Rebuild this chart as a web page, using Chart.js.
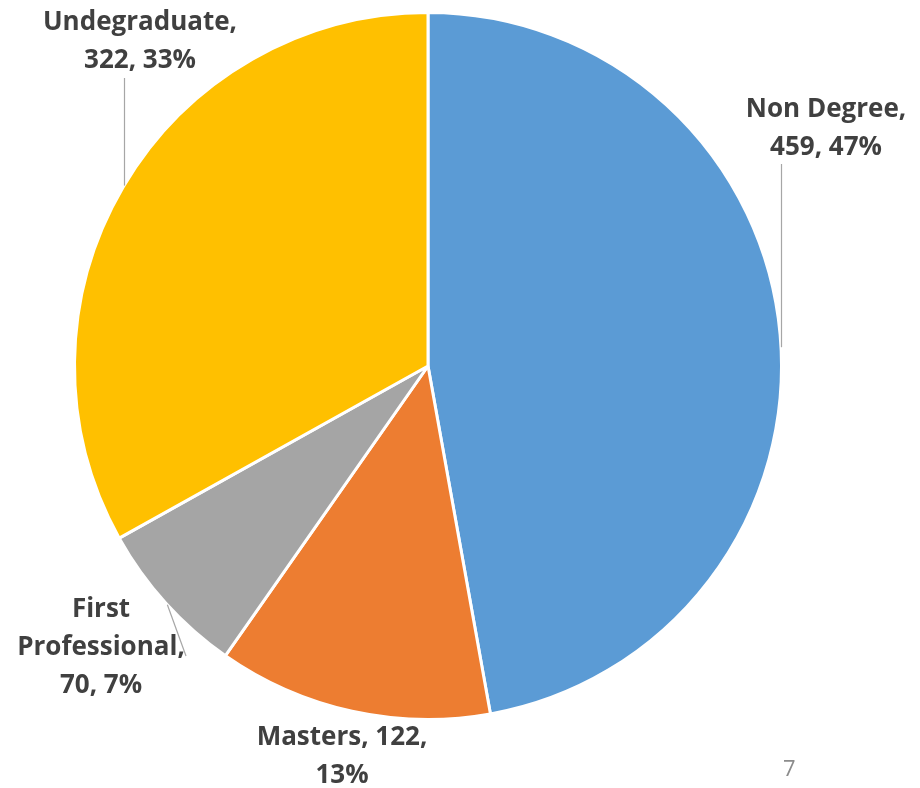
<!DOCTYPE html>
<html>
<head>
  <title>Enrollment by Degree Level</title>
  <meta charset="utf-8" />
  <script src="https://cdn.jsdelivr.net/npm/chart.js"></script>
  <style>
    html, body { margin: 0; padding: 0; background: #ffffff; }
    #wrap { position: relative; width: 920px; height: 788px; }
    #page-num { position: absolute; left: 783px; top: 752px; font: 22px "Open Sans", sans-serif; color: #8c8c8c; }
  </style>
</head>
<body>
  <div id="wrap">
    <canvas id="pie" width="920" height="788"></canvas>
    <div id="page-num">7</div>
  </div>

  <script>
    // data
    const categories = ['Non Degree', 'Masters', 'First Professional', 'Undegraduate'];
    const counts = [459, 122, 70, 322];
    const percents = ['47%', '13%', '7%', '33%'];
    const colors = ['#5B9BD5', '#ED7D31', '#A5A5A5', '#FFC000'];

    // label text lines and where they sit (style, not data)
    const labelLines = [
      ['Non Degree,', '459, 47%'],
      ['Masters, 122,', '13%'],
      ['First', 'Professional,', '70, 7%'],
      ['Undegraduate,', '322, 33%']
    ];
    const labelPos = [
      { x: 826, y: 110 },
      { x: 342, y: 738 },
      { x: 101, y: 610 },
      { x: 140, y: 23 }
    ];
    // leader lines: vertical ones start on the arc at x, the other at an angle
    const leaders = [
      { type: 'v', x: 781, toY: 164 },
      null,
      { type: 'free', ang: 137.5, toX: 186, toY: 656 },
      { type: 'v', x: 124, toY: 78 }
    ];

    const labelPlugin = {
      id: 'sliceLabels',
      afterDatasetsDraw(chart) {
        const ctx = chart.ctx;
        const arcs = chart.getDatasetMeta(0).data;
        ctx.save();
        // leader lines
        ctx.strokeStyle = '#a6a6a6';
        ctx.lineWidth = 1.2;
        arcs.forEach((arc, i) => {
          const l = leaders[i];
          if (!l) return;
          const cx = arc.x, cy = arc.y, r = arc.outerRadius;
          let sx, sy;
          if (l.type === 'v') {
            sx = l.x;
            const dx = l.x - cx;
            sy = cy - Math.sqrt(Math.max(r * r - dx * dx, 0));
            ctx.beginPath();
            ctx.moveTo(sx + 0.5, sy);
            ctx.lineTo(sx + 0.5, l.toY);
            ctx.stroke();
          } else {
            const a = l.ang * Math.PI / 180;
            sx = cx + r * Math.cos(a);
            sy = cy + r * Math.sin(a);
            ctx.beginPath();
            ctx.moveTo(sx, sy);
            ctx.lineTo(l.toX, l.toY);
            ctx.stroke();
          }
        });
        // text
        ctx.fillStyle = '#404040';
        ctx.font = 'bold 26px "Open Sans", sans-serif';
        ctx.textAlign = 'center';
        ctx.textBaseline = 'middle';
        labelLines.forEach((lines, i) => {
          const p = labelPos[i];
          lines.forEach((t, j) => {
            ctx.fillText(t, p.x, p.y + j * 38);
          });
        });
        ctx.restore();
      }
    };

    new Chart(document.getElementById('pie'), {
      type: 'pie',
      data: {
        labels: categories,
        datasets: [{
          data: counts,
          backgroundColor: colors,
          borderColor: '#ffffff',
          borderWidth: 3
        }]
      },
      options: {
        responsive: false,
        animation: false,
        layout: { padding: { left: 73, right: 137, top: 11, bottom: 67 } },
        plugins: {
          legend: { display: false },
          tooltip: { enabled: false }
        }
      },
      plugins: [labelPlugin]
    });
  </script>
</body>
</html>
